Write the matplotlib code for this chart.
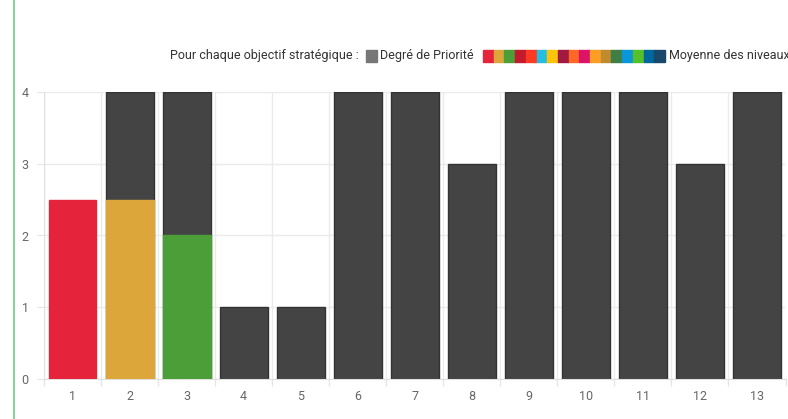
import matplotlib
matplotlib.use("Agg")
import matplotlib.pyplot as plt
from matplotlib.patches import Rectangle
from matplotlib.lines import Line2D

categories = ["1", "2", "3", "4", "5", "6", "7", "8", "9", "10", "11", "12", "13"]
priority = [0, 4, 4, 1, 1, 4, 4, 3, 4, 4, 4, 3, 4]
moyenne = [2.5, 2.5, 2, None, None, None, None, None, None, None, None, None, None]
sdg_colors = ["#E5243B", "#DDA63A", "#4C9F38", "#C5192D", "#FF3A21", "#26BDE2", "#FCC30B",
              "#A21942", "#FD6925", "#DD1367", "#FD9D24", "#BF8B2E", "#3F7E44", "#0A97D9",
              "#56C02B", "#00689D", "#19486A"]
yticks = [0, 1, 2, 3, 4]
legend_title = "Pour chaque objectif stratégique :"
legend_prio = "Degré de Priorité"
legend_moy = "Moyenne des niveaux"

plt.rcParams['font.family'] = ['Roboto', 'DejaVu Sans']
W, H = 788, 419
fig = plt.figure(figsize=(W / 100, H / 100), dpi=100)
fig.patch.set_facecolor("white")

ax = fig.add_axes([44 / W, 1 - 379 / H, (785.5 - 44) / W, (379 - 92) / H])
x = list(range(len(categories)))
bw = 0.84
ax.bar(x, priority, width=bw, color="#444444", edgecolor="#333333", linewidth=1, zorder=2)
for i, v in enumerate(moyenne):
    if v is not None:
        ax.bar(i, v, width=bw, color=sdg_colors[i], edgecolor=sdg_colors[i], linewidth=1, zorder=3)

ax.set_xlim(-0.5, len(categories) - 0.5)
ax.set_ylim(0, 4)
ax.set_yticks(yticks)
ax.set_yticklabels([str(t) for t in yticks])
ax.set_xticks(x)
ax.set_xticklabels(categories)
ax.set_xticks([i - 0.5 for i in range(len(categories) + 1)], minor=True)
ax.tick_params(axis="x", which="major", length=0, pad=8, labelsize=9, labelcolor="#666666")
ax.tick_params(axis="x", which="minor", length=5, color="#e6e6e6", width=1)
ax.tick_params(axis="y", length=5, color="#e6e6e6", pad=6, labelsize=9, labelcolor="#666666")
ax.grid(True, which="major", axis="y", color="#ebebeb", linewidth=1, zorder=0)
ax.grid(True, which="minor", axis="x", color="#ebebeb", linewidth=1, zorder=0)
for s in ["top", "right"]:
    ax.spines[s].set_visible(False)
for s in ["left", "bottom"]:
    ax.spines[s].set_color("#e0e0e0")
ax.set_axisbelow(True)

# green side line
fig.add_artist(Line2D([14 / W, 14 / W], [0, 1], color="#8fcf98", linewidth=1.5))

# legend
ly = 1 - 56 / H
fs = 9
fig.text(359 / W, ly, legend_title, ha="right", va="center", fontsize=fs, color="#333333")
fig.add_artist(Rectangle((366 / W, 1 - 62 / H), 11 / W, 12 / H, color="#777777", transform=fig.transFigure))
fig.text(380 / W, ly, legend_prio, ha="left", va="center", fontsize=fs, color="#333333")
sw = (665 - 483) / len(sdg_colors)
for k, c in enumerate(sdg_colors):
    fig.add_artist(Rectangle(((483 + k * sw) / W, 1 - 62 / H), sw / W, 12 / H, color=c, transform=fig.transFigure))
fig.text(669 / W, ly, legend_moy, ha="left", va="center", fontsize=fs, color="#333333")

fig.savefig("out.png", dpi=100)
